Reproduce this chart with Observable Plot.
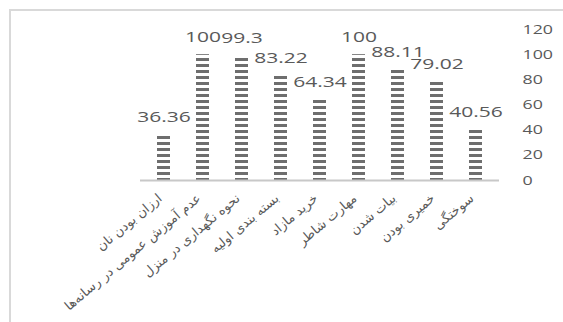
<!DOCTYPE html>
<html><head><meta charset="utf-8">
<script src="https://cdn.jsdelivr.net/npm/d3@7"></script>
<script src="https://cdn.jsdelivr.net/npm/@observablehq/plot@0.6"></script>
<style>
body{margin:0;background:#fff;}
#wrap{position:relative;width:563px;height:322px;overflow:hidden;}
#frame{position:absolute;left:9px;top:9px;width:600px;height:400px;border-top:2px solid #d9d9d9;border-left:2px solid #d9d9d9;}
#chart{position:absolute;left:0;top:0;}
</style></head><body>
<div id="wrap"><div id="frame"></div><div id="chart"></div></div>
<script>
const categories = ["ارزان بودن نان","عدم آموزش عمومی در رسانه‌ها","نحوه نگهداری در منزل","بسته بندی اولیه","خرید مازاد","مهارت شاطر","بیات شدن","خمیری بودن","سوختگی"];
const values = [36.36,100,99.3,83.22,64.34,100,88.11,79.02,40.56];
const yTicks = [0,20,40,60,80,100,120];
const data = categories.map((c,i)=>({category:c,value:values[i]}));

const plot = Plot.plot({
  width:563, height:322, marginLeft:140, marginRight:64, marginTop:29, marginBottom:142,
  style:{fontFamily:"'Open Sans', sans-serif", background:"transparent", color:"#595959"},
  x:{domain:categories, paddingInner:0.66, paddingOuter:0.33, label:null},
  y:{domain:[0,120], label:null},
  marks:[
    Plot.barY(data,{x:"category", y:"value", fill:"url(#stripes)"}),
    Plot.ruleY([0],{stroke:"#c8c8c8", strokeWidth:2}),
    Plot.text(data,{x:"category", y:"value", text:d=>String(d.value), dy:-17, fontSize:14, fill:"#595959"}),
    Plot.axisY(yTicks,{anchor:"right", tickSize:0, tickPadding:23, fontSize:12.5, label:null, tickFormat:d=>String(d), fill:"#595959"}),
    Plot.axisX({tickSize:0, tickRotate:-40, tickPadding:16, dx:-4, fontSize:13, label:null, fill:"#595959", fontFamily:"'DejaVu Sans', sans-serif"})
  ]
});

const svg = d3.select(plot);
const pat = svg.insert("defs", ":first-child").append("pattern")
  .attr("id","stripes").attr("patternUnits","userSpaceOnUse")
  .attr("width",10).attr("height",6).attr("y",4);
pat.append("rect").attr("width",10).attr("height",3).attr("fill","#6e6e6e");

document.getElementById("chart").appendChild(plot);

svg.selectAll('g[aria-label="text"] text').each(function(){
  const len = this.getComputedTextLength();
  this.setAttribute("textLength", (len*1.5).toFixed(1));
  this.setAttribute("lengthAdjust","spacingAndGlyphs");
});
svg.selectAll('g[aria-label="y-axis tick label"] text').each(function(){
  const len = this.getComputedTextLength();
  this.setAttribute("textLength", (len*1.42).toFixed(1));
  this.setAttribute("lengthAdjust","spacingAndGlyphs");
});
</script>
</body></html>
